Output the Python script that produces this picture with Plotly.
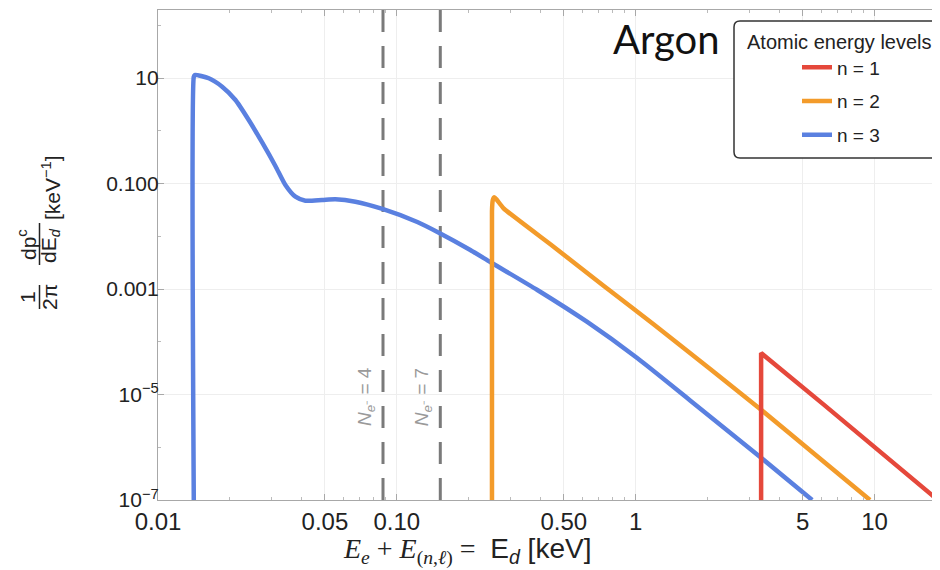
import math
import plotly.graph_objects as go

# ---- data (x: keV, y: 1/(2π) dp^c/dE_d in keV^-1) ----
n3_x = [0.01412, 0.01412, 0.01425, 0.01632, 0.01856, 0.02110, 0.02398, 0.02729, 0.03101,
        0.03415, 0.03761, 0.04142, 0.04864, 0.05531, 0.06706, 0.0870, 0.1218, 0.1506,
        0.2030, 0.246, 0.3875, 0.6266, 1.014, 1.690, 3.32, 5.48]
n3_y = [1e-7, 10.5, 11.4, 9.87, 6.84, 3.83, 1.60, 0.60, 0.215,
        0.0937, 0.0562, 0.0472, 0.0487, 0.0502, 0.0452, 0.0329, 0.01862, 0.01153,
        0.00548, 0.00325, 9.57e-4, 2.37e-4, 4.92e-5, 7.73e-6, 6.53e-7, 1e-7]

n2_x = [0.2502, 0.2502, 0.2520, 0.2559, 0.2625, 0.2798, 0.4517, 0.7311, 1.184,
        2.050, 3.319, 5.636, 9.57]
n2_y = [1e-7, 0.030, 0.048, 0.0548, 0.0487, 0.0339, 0.0064, 0.001164, 2.17e-4,
        3.04e-5, 5.31e-6, 7.3e-7, 1e-7]

n1_x = [3.35, 3.35, 6.11, 18.4]
n1_y = [1e-7, 6.12e-5, 6.5e-6, 1e-7]

series_names = ["n = 1", "n = 2", "n = 3"]
series_colors = ["#E5483B", "#F39B2A", "#5A80E0"]

threshold_x = [0.0875, 0.152]
threshold_labels = ["<i>N</i><sub><i>e</i>⁻</sub> = 4", "<i>N</i><sub><i>e</i>⁻</sub> = 7"]

x_tickvals = [0.01, 0.05, 0.1, 0.5, 1, 5, 10]
x_ticktext = ["0.01", "0.05", "0.10", "0.50", "1", "5", "10"]
x_minor = [0.02, 0.03, 0.04, 0.06, 0.07, 0.08, 0.09, 0.2, 0.3, 0.4, 0.6, 0.7, 0.8, 0.9,
           2, 3, 4, 6, 7, 8, 9]
y_tickvals = [10, 0.1, 0.001, 1e-5, 1e-7]
y_ticktext = ["10", "0.100", "0.001", "10<sup>−5</sup>", "10<sup>−7</sup>"]
y_minor = [100, 1, 0.01, 1e-4, 1e-6]

# page offset of the figure div (body margin) is 8px
OFF = 8
W, H = 940, 570
PL, PR, PT, PB = 158, 940, 10, 500          # plot area in page pixels
L, T = PL - OFF, PT - OFF
R = W - (PR - OFF)
B = H - (PB - OFF)
pw, ph = PR - PL, PB - PT


def px(xp):
    return (xp - PL) / pw


def py(yp):
    return (PB - yp) / ph


fig = go.Figure()

# draw order: n=3, n=2, n=1 (red on top)
fig.add_trace(go.Scatter(x=n3_x, y=n3_y, mode="lines", name=series_names[2],
                         legendgroup="g3", legendrank=3,
                         line=dict(color=series_colors[2], width=4.5, shape="spline",
                                   smoothing=0.6)))
fig.add_trace(go.Scatter(x=n2_x, y=n2_y, mode="lines", name=series_names[1],
                         legendgroup="g2", legendrank=2,
                         line=dict(color=series_colors[1], width=4.5, shape="spline",
                                   smoothing=0.5)))
fig.add_trace(go.Scatter(x=n1_x, y=n1_y, mode="lines", name=series_names[0],
                         legendgroup="g1", legendrank=1,
                         line=dict(color=series_colors[0], width=4.5)))

# threshold dashed lines
for xv, lab in zip(threshold_x, threshold_labels):
    fig.add_shape(type="line", xref="x", yref="paper", x0=xv, x1=xv, y0=0, y1=1,
                  line=dict(color="#7a7a7a", width=3, dash="22px,14px"), layer="below")
    fig.add_annotation(x=math.log10(xv), xref="x", xshift=-17, y=py(397), yref="paper",
                       text=lab, textangle=-90, showarrow=False,
                       xanchor="center", yanchor="middle",
                       font=dict(family="Liberation Sans", size=19, color="#9a9a9a"))

# legend box (rounded rectangle) behind the native legend
x0, x1 = px(734), px(965)
y0, y1 = py(158), py(21)
rx, ry = 6 / pw, 6 / ph
path = (f"M {x0+rx},{y1} L {x1-rx},{y1} Q {x1},{y1} {x1},{y1-ry} L {x1},{y0+ry} "
        f"Q {x1},{y0} {x1-rx},{y0} L {x0+rx},{y0} Q {x0},{y0} {x0},{y0+ry} "
        f"L {x0},{y1-ry} Q {x0},{y1} {x0+rx},{y1} Z")
fig.add_shape(type="path", path=path, xref="paper", yref="paper",
              fillcolor="white", line=dict(color="#333333", width=1.5), layer="above")

# "Argon"
fig.add_annotation(x=px(666), y=py(39), xref="paper", yref="paper", text="Argon",
                   showarrow=False, xanchor="center", yanchor="middle",
                   font=dict(family="Lato", size=40, color="#111111"))

# y-axis title built as a rotated fraction
yfont = dict(family="Liberation Sans", size=21, color="#222222")
for txt, xx, yy in [("1", 28, 297), ("2π", 50, 297), ("dp<sup>c</sup>", 27, 245),
                    ("dE<sub><i>d</i></sub>", 50, 246), ("[keV<sup>−1</sup>]", 51, 188)]:
    fig.add_annotation(x=px(xx), y=py(yy), xref="paper", yref="paper", text=txt,
                       textangle=-90, showarrow=False, xanchor="center",
                       yanchor="middle", font=yfont)
for ya, yb in [(285, 309), (223, 265)]:
    fig.add_shape(type="line", xref="paper", yref="paper", x0=px(39.5), x1=px(39.5),
                  y0=py(yb), y1=py(ya), line=dict(color="#222222", width=1.5))

# x-axis title (placed left of centre as in the reference)
xtitle = ('<span style="font-family:Liberation Serif"><i>E<sub>e</sub></i> + '
          '<i>E</i><sub>(<i>n</i>,<i>ℓ</i>)</sub> = </span> E<sub><i>d</i></sub> [keV]')
fig.add_annotation(x=px(467), y=py(551), xref="paper", yref="paper", text=xtitle,
                   showarrow=False, xanchor="center", yanchor="middle",
                   font=dict(family="Liberation Sans", size=28, color="#222222"))

axis_common = dict(showline=True, linecolor="#a8a8a8", linewidth=1.2, mirror="ticks",
                   ticks="inside", ticklen=6, tickcolor="#a8a8a8",
                   showgrid=True, gridcolor="#eeeeee", gridwidth=1, zeroline=False)

fig.update_layout(
    width=W, height=H, autosize=False,
    margin=dict(l=L, r=R, t=T, b=B, autoexpand=False),
    paper_bgcolor="white", plot_bgcolor="white",
    font=dict(family="Liberation Sans", size=21, color="#222222"),
    xaxis=dict(type="log", range=[-2, 1.274], tickvals=x_tickvals, ticktext=x_ticktext,
               tickfont=dict(size=24),
               minor=dict(tickvals=x_minor, ticks="inside", ticklen=3,
                          tickcolor="#bbbbbb", showgrid=False),
               **axis_common),
    yaxis=dict(type="log", range=[-7, 2.289], tickvals=y_tickvals, ticktext=y_ticktext,
               tickfont=dict(size=21), ticklabelstandoff=-6,
               minor=dict(tickvals=y_minor, ticks="inside", ticklen=3,
                          tickcolor="#bbbbbb", showgrid=False),
               **axis_common),
    showlegend=True,
    legend=dict(x=px(745), y=py(22.5), xanchor="left", yanchor="top",
                bgcolor="rgba(0,0,0,0)", borderwidth=0,
                title=dict(text="Atomic energy levels", font=dict(size=20)),
                font=dict(size=19), tracegroupgap=6, indentation=52,
                itemwidth=30, traceorder="grouped"),
)

fig.write_html("out.html")
